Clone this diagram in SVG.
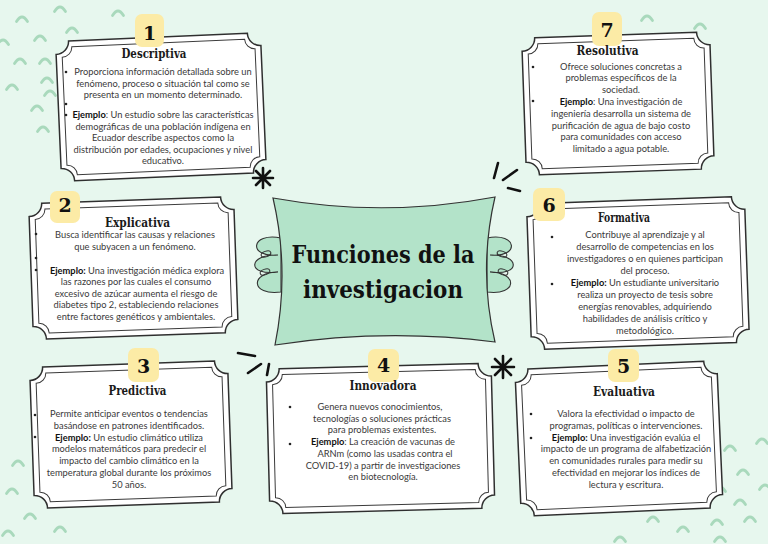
<svg xmlns="http://www.w3.org/2000/svg" xmlns:xlink="http://www.w3.org/1999/xlink" width="768" height="544" viewBox="0 0 768 544">
<style>
.frame{fill:#fff;stroke:#2f2f2f;stroke-width:1.5}
.inner{fill:none;stroke:#3a3a3a;stroke-width:1}
.badge{fill:#FCEBA6}
.num{font-family:"DejaVu Serif",serif;font-weight:700;font-size:19px;fill:#111;text-anchor:middle}
.ttl{font-family:"DejaVu Serif",serif;font-weight:700;font-size:12px;fill:#1a1a1a;text-anchor:middle}
.body{font-family:Lato,"Open Sans",sans-serif;font-size:9.3px;fill:#3a3a3a;text-anchor:middle}
.body tspan.b{font-weight:700;fill:#111}
.dot{fill:#222}
.arc{fill:none;stroke:#A9D9BC;stroke-width:2.8;stroke-linecap:round}
.ink{fill:none;stroke:#111;stroke-width:2.6;stroke-linecap:round}
.main{font-family:"DejaVu Serif",serif;font-weight:700;font-size:24px;fill:#111;text-anchor:middle}
</style>
<defs>
<path id="arc" class="arc" d="M-5.5 3.5 Q0 -5.5 5.5 3.5"/>
</defs>
<rect width="768" height="544" fill="#E7F7EE"/>
<g id="background-arcs">
<use href="#arc" x="60" y="8"/><use href="#arc" x="22" y="18"/><use href="#arc" x="118" y="12"/><use href="#arc" x="72" y="29"/><use href="#arc" x="40" y="37"/><use href="#arc" x="3" y="41"/><use href="#arc" x="20" y="60"/><use href="#arc" x="45" y="60"/><use href="#arc" x="47" y="79"/><use href="#arc" x="12" y="86"/><use href="#arc" x="50" y="92"/><use href="#arc" x="37" y="107"/><use href="#arc" x="43" y="128"/>
<use href="#arc" x="647" y="17"/><use href="#arc" x="700" y="25"/>
<use href="#arc" x="18" y="462"/><use href="#arc" x="12" y="490"/><use href="#arc" x="30" y="515"/><use href="#arc" x="60" y="528"/><use href="#arc" x="8" y="532"/>
<use href="#arc" x="730" y="447"/><use href="#arc" x="762" y="440"/><use href="#arc" x="743" y="471"/><use href="#arc" x="765" y="486"/><use href="#arc" x="720" y="488"/><use href="#arc" x="740" y="501"/><use href="#arc" x="750" y="518"/><use href="#arc" x="717" y="521"/><use href="#arc" x="683" y="528"/><use href="#arc" x="653" y="518"/><use href="#arc" x="620" y="538"/><use href="#arc" x="720" y="538"/>
</g>
<g id="connectors">
<g id="star-top">
<path class="ink" d="M253 178 L273 178 M263 168 L263 188 M256 171 L270 185 M270 171 L256 185"/>
</g>
<g id="star-bottom">
<path class="ink" d="M492 367 L514 367 M503 356 L503 378 M495 359 L511 375 M511 359 L495 375"/>
</g>
<path class="ink" d="M498 163 L494 178 M517 170 L503 180 M508 188 L520 191"/>
<path class="ink" d="M238 353 L255 356 M248 373 L261 364 M267 375 L269 364"/>
</g>
<g id="center">
<path d="M281 238 C250 232 248 258 278 255 C248 254 246 276 278 272 C250 272 250 296 281 292 Z" fill="#B3E3C9" stroke="#333" stroke-width="1.1"/>
<ellipse cx="266" cy="254" rx="5" ry="2.8" fill="none" stroke="#333" stroke-width="1" transform="rotate(-20 266 254)"/>
<ellipse cx="265" cy="272" rx="5" ry="2.8" fill="none" stroke="#333" stroke-width="1" transform="rotate(-20 265 272)"/>
<g transform="translate(768 0) scale(-1 1)">
<path d="M281 238 C250 232 248 258 278 255 C248 254 246 276 278 272 C250 272 250 296 281 292 Z" fill="#B3E3C9" stroke="#333" stroke-width="1.1"/>
<ellipse cx="266" cy="254" rx="5" ry="2.8" fill="none" stroke="#333" stroke-width="1" transform="rotate(-20 266 254)"/>
<ellipse cx="265" cy="272" rx="5" ry="2.8" fill="none" stroke="#333" stroke-width="1" transform="rotate(-20 265 272)"/>
</g>
<path d="M273 198 Q384 218 495 197 Q478 270 495 342 Q385 328 275 345 Q290 271 273 198 Z" fill="#B3E3C9" stroke="#333" stroke-width="1.2"/>
<text class="main" x="383" y="263" textLength="183" lengthAdjust="spacingAndGlyphs">Funciones de la</text>
<text class="main" x="383" y="298" textLength="160" lengthAdjust="spacingAndGlyphs">investigacion</text>
</g>
<g id="box1">
<g transform="translate(161 107) rotate(-2.5)">
<path class="frame" d="M-89.5 -70 H89.5 A13 13 0 0 0 102.5 -57 V57 A13 13 0 0 0 89.5 70 H-89.5 A13 13 0 0 0 -102.5 57 V-57 A13 13 0 0 0 -89.5 -70Z"/>
<path class="inner" d="M-86.5 -64 H86.5 A10 10 0 0 0 96.5 -54 V54 A10 10 0 0 0 86.5 64 H-86.5 A10 10 0 0 0 -96.5 54 V-54 A10 10 0 0 0 -86.5 -64Z"/>
</g>
<rect class="badge" x="135" y="14" width="29" height="33" rx="7"/>
<text class="num" x="149.5" y="40">1</text>
<text class="ttl" x="154" y="58" textLength="65" lengthAdjust="spacingAndGlyphs">Descriptiva</text>
<circle class="dot" cx="66" cy="72" r="1.3"/><circle class="dot" cx="66" cy="104" r="1.3"/><circle class="dot" cx="66" cy="115" r="1.3"/>
<text class="body" x="163" y="75">Proporciona información detallada sobre un</text>
<text class="body" x="163" y="86.5">fenómeno, proceso o situación tal como se</text>
<text class="body" x="163" y="98">presenta en un momento determinado.</text>
<text class="body" x="163" y="118"><tspan class="b">Ejemplo</tspan>: Un estudio sobre las características</text>
<text class="body" x="163" y="129.5">demográficas de una población indígena en</text>
<text class="body" x="163" y="141">Ecuador describe aspectos como la</text>
<text class="body" x="163" y="152.5">distribución por edades, ocupaciones y nivel</text>
<text class="body" x="163" y="164">educativo.</text>
</g>
<g id="box7">
<g transform="translate(618 103.5) rotate(-2)">
<path class="frame" d="M-81 -68.5 H81 A13 13 0 0 0 94 -55.5 V55.5 A13 13 0 0 0 81 68.5 H-81 A13 13 0 0 0 -94 55.5 V-55.5 A13 13 0 0 0 -81 -68.5Z"/>
<path class="inner" d="M-78 -62.5 H78 A10 10 0 0 0 88 -52.5 V52.5 A10 10 0 0 0 78 62.5 H-78 A10 10 0 0 0 -88 52.5 V-52.5 A10 10 0 0 0 -78 -62.5Z"/>
</g>
<rect class="badge" x="592" y="12" width="30" height="34" rx="7"/>
<text class="num" x="607" y="37">7</text>
<text class="ttl" x="607.5" y="55" textLength="62" lengthAdjust="spacingAndGlyphs">Resolutiva</text>
<circle class="dot" cx="533" cy="67" r="1.3"/><circle class="dot" cx="533" cy="101" r="1.3"/>
<text class="body" x="621" y="69.5">Ofrece soluciones concretas a</text>
<text class="body" x="621" y="81.3">problemas específicos de la</text>
<text class="body" x="621" y="93.1">sociedad.</text>
<text class="body" x="621" y="104.9"><tspan class="b">Ejemplo</tspan>: Una investigación de</text>
<text class="body" x="621" y="116.7">ingeniería desarrolla un sistema de</text>
<text class="body" x="621" y="128.5">purificación de agua de bajo costo</text>
<text class="body" x="621" y="140.3">para comunidades con acceso</text>
<text class="body" x="621" y="152.1">limitado a agua potable.</text>
</g>
<g id="box2">
<g transform="translate(133.5 268) rotate(-2)">
<path class="frame" d="M-89.5 -68 H89.5 A13 13 0 0 0 102.5 -55 V55 A13 13 0 0 0 89.5 68 H-89.5 A13 13 0 0 0 -102.5 55 V-55 A13 13 0 0 0 -89.5 -68Z"/>
<path class="inner" d="M-86.5 -62 H86.5 A10 10 0 0 0 96.5 -52 V52 A10 10 0 0 0 86.5 62 H-86.5 A10 10 0 0 0 -96.5 52 V-52 A10 10 0 0 0 -86.5 -62Z"/>
</g>
<rect class="badge" x="50" y="191" width="30" height="32" rx="7"/>
<text class="num" x="65" y="212">2</text>
<text class="ttl" x="137.5" y="227" textLength="65" lengthAdjust="spacingAndGlyphs">Explicativa</text>
<circle class="dot" cx="36" cy="234" r="1.3"/><circle class="dot" cx="36" cy="258" r="1.3"/><circle class="dot" cx="36" cy="270" r="1.3"/>
<text class="body" x="135" y="238">Busca identificar las causas y relaciones</text>
<text class="body" x="135" y="250">que subyacen a un fenómeno.</text>
<text class="body" x="137" y="273.5"><tspan class="b">Ejemplo:</tspan> Una investigación médica explora</text>
<text class="body" x="136" y="285">las razones por las cuales el consumo</text>
<text class="body" x="136" y="296.5">excesivo de azúcar aumenta el riesgo de</text>
<text class="body" x="136" y="308">diabetes tipo 2, estableciendo relaciones</text>
<text class="body" x="136" y="319.5">entre factores genéticos y ambientales.</text>
</g>
<g id="box6">
<g transform="translate(638 273) rotate(-2)">
<path class="frame" d="M-96 -73 H96 A13 13 0 0 0 109 -60 V60 A13 13 0 0 0 96 73 H-96 A13 13 0 0 0 -109 60 V-60 A13 13 0 0 0 -96 -73Z"/>
<path class="inner" d="M-93 -67 H93 A10 10 0 0 0 103 -57 V57 A10 10 0 0 0 93 67 H-93 A10 10 0 0 0 -103 57 V-57 A10 10 0 0 0 -93 -67Z"/>
</g>
<rect class="badge" x="533" y="188" width="32" height="33" rx="7"/>
<text class="num" x="549" y="212">6</text>
<text class="ttl" x="624" y="222" textLength="52" lengthAdjust="spacingAndGlyphs">Formativa</text>
<circle class="dot" cx="552" cy="237" r="1.3"/><circle class="dot" cx="552" cy="284" r="1.3"/>
<text class="body" x="645" y="238">Contribuye al aprendizaje y al</text>
<text class="body" x="645" y="250">desarrollo de competencias en los</text>
<text class="body" x="645" y="262">investigadores o en quienes participan</text>
<text class="body" x="645" y="274">del proceso.</text>
<text class="body" x="645" y="286"><tspan class="b">Ejemplo:</tspan> Un estudiante universitario</text>
<text class="body" x="645" y="298">realiza un proyecto de tesis sobre</text>
<text class="body" x="645" y="310">energías renovables, adquiriendo</text>
<text class="body" x="645" y="322">habilidades de análisis crítico y</text>
<text class="body" x="645" y="334">metodológico.</text>
</g>
<g id="box3">
<g transform="translate(131 434.5) rotate(-2)">
<path class="frame" d="M-86 -70.5 H86 A13 13 0 0 0 99 -57.5 V57.5 A13 13 0 0 0 86 70.5 H-86 A13 13 0 0 0 -99 57.5 V-57.5 A13 13 0 0 0 -86 -70.5Z"/>
<path class="inner" d="M-83 -64.5 H83 A10 10 0 0 0 93 -54.5 V54.5 A10 10 0 0 0 83 64.5 H-83 A10 10 0 0 0 -93 54.5 V-54.5 A10 10 0 0 0 -83 -64.5Z"/>
</g>
<rect class="badge" x="128" y="348" width="31" height="34" rx="7"/>
<text class="num" x="143.5" y="373">3</text>
<text class="ttl" x="137.5" y="395" textLength="58" lengthAdjust="spacingAndGlyphs">Predictiva</text>
<circle class="dot" cx="35" cy="415" r="1.3"/><circle class="dot" cx="35" cy="437" r="1.3"/>
<text class="body" x="129" y="417">Permite anticipar eventos o tendencias</text>
<text class="body" x="129" y="428.8">basándose en patrones identificados.</text>
<text class="body" x="129" y="440.6"><tspan class="b">Ejemplo:</tspan> Un estudio climático utiliza</text>
<text class="body" x="129" y="452.4">modelos matemáticos para predecir el</text>
<text class="body" x="129" y="464.2">impacto del cambio climático en la</text>
<text class="body" x="129" y="476">temperatura global durante los próximos</text>
<text class="body" x="129" y="487.8">50 años.</text>
</g>
<g id="box4">
<g transform="translate(380.5 438.5) rotate(-1.5)">
<path class="frame" d="M-99.5 -72.5 H99.5 A13 13 0 0 0 112.5 -59.5 V59.5 A13 13 0 0 0 99.5 72.5 H-99.5 A13 13 0 0 0 -112.5 59.5 V-59.5 A13 13 0 0 0 -99.5 -72.5Z"/>
<path class="inner" d="M-96.5 -66.5 H96.5 A10 10 0 0 0 106.5 -56.5 V56.5 A10 10 0 0 0 96.5 66.5 H-96.5 A10 10 0 0 0 -106.5 56.5 V-56.5 A10 10 0 0 0 -96.5 -66.5Z"/>
</g>
<rect class="badge" x="368" y="349" width="31" height="33" rx="7"/>
<text class="num" x="383.5" y="372">4</text>
<text class="ttl" x="383" y="390" textLength="67" lengthAdjust="spacingAndGlyphs">Innovadora</text>
<circle class="dot" cx="290" cy="407" r="1.3"/><circle class="dot" cx="290" cy="444" r="1.3"/>
<text class="body" x="380" y="410">Genera nuevos conocimientos,</text>
<text class="body" x="382" y="421.7">tecnologías o soluciones prácticas</text>
<text class="body" x="382" y="433.4">para problemas existentes.</text>
<text class="body" x="383" y="445.1"><tspan class="b">Ejemplo</tspan>: La creación de vacunas de</text>
<text class="body" x="385" y="456.8">ARNm (como las usadas contra el</text>
<text class="body" x="383" y="468.5">COVID-19) a partir de investigaciones</text>
<text class="body" x="383" y="480.2">en biotecnología.</text>
</g>
<g id="box5">
<g transform="translate(619 438.5) rotate(-2.5)">
<path class="frame" d="M-88 -73.5 H88 A13 13 0 0 0 101 -60.5 V60.5 A13 13 0 0 0 88 73.5 H-88 A13 13 0 0 0 -101 60.5 V-60.5 A13 13 0 0 0 -88 -73.5Z"/>
<path class="inner" d="M-85 -67.5 H85 A10 10 0 0 0 95 -57.5 V57.5 A10 10 0 0 0 85 67.5 H-85 A10 10 0 0 0 -95 57.5 V-57.5 A10 10 0 0 0 -85 -67.5Z"/>
</g>
<rect class="badge" x="608" y="349" width="31" height="33" rx="7"/>
<text class="num" x="623.5" y="373">5</text>
<text class="ttl" x="624" y="396" textLength="62" lengthAdjust="spacingAndGlyphs">Evaluativa</text>
<circle class="dot" cx="531" cy="414" r="1.3"/><circle class="dot" cx="531" cy="438" r="1.3"/>
<text class="body" x="626" y="417">Valora la efectividad o impacto de</text>
<text class="body" x="626" y="428.8">programas, políticas o intervenciones.</text>
<text class="body" x="626" y="440.6"><tspan class="b">Ejemplo:</tspan> Una investigación evalúa el</text>
<text class="body" x="626" y="452.4">impacto de un programa de alfabetización</text>
<text class="body" x="626" y="464.2">en comunidades rurales para medir su</text>
<text class="body" x="626" y="476">efectividad en mejorar los índices de</text>
<text class="body" x="626" y="487.8">lectura y escritura.</text>
</g>
</svg>
